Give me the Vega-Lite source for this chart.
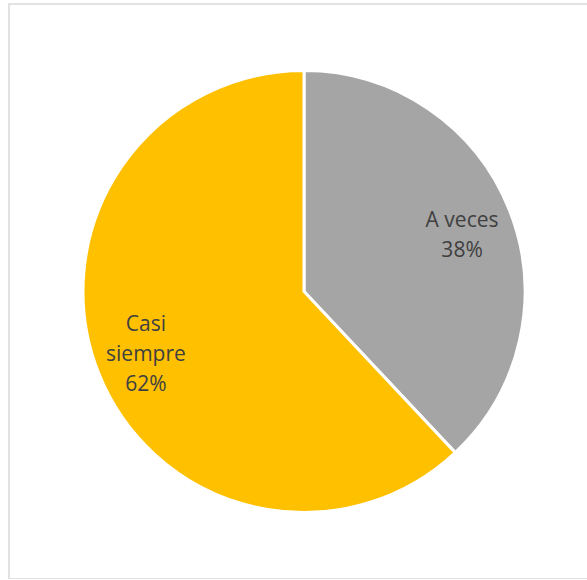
{
  "$schema": "https://vega.github.io/schema/vega-lite/v6.json",
  "width": 590,
  "height": 575,
  "autosize": "none",
  "padding": {"left": 9, "top": 4, "right": 0, "bottom": 0},
  "background": "white",
  "view": {"stroke": "#D9D9D9", "strokeWidth": 1.5},
  "data": {
    "values": [
      {"category": "A veces", "value": 38, "order": 1, "label": "A veces\n38%"},
      {"category": "Casi siempre", "value": 62, "order": 2, "label": "Casi\nsiempre\n62%"}
    ]
  },
  "encoding": {
    "theta": {"field": "value", "type": "quantitative", "stack": true},
    "order": {"field": "order", "type": "quantitative"}
  },
  "layer": [
    {
      "mark": {"type": "arc", "outerRadius": 221, "stroke": "white", "strokeWidth": 3},
      "encoding": {
        "color": {
          "field": "category",
          "type": "nominal",
          "scale": {"domain": ["A veces", "Casi siempre"], "range": ["#A5A5A5", "#FFC000"]},
          "legend": null
        }
      }
    },
    {
      "mark": {"type": "text", "radius": 170, "dy": -8, "fontSize": 21, "font": "Open Sans", "color": "#404040", "lineBreak": "\n", "lineHeight": 30, "align": "center", "baseline": "middle"},
      "encoding": {
        "text": {"field": "label", "type": "nominal"},
        "opacity": {"condition": {"test": "datum.category === 'A veces'", "value": 1}, "value": 0}
      }
    },
    {
      "mark": {"type": "text", "radius": 170, "dy": -29, "fontSize": 21, "font": "Open Sans", "color": "#404040", "lineBreak": "\n", "lineHeight": 30, "align": "center", "baseline": "middle"},
      "encoding": {
        "text": {"field": "label", "type": "nominal"},
        "opacity": {"condition": {"test": "datum.category === 'Casi siempre'", "value": 1}, "value": 0}
      }
    }
  ]
}
